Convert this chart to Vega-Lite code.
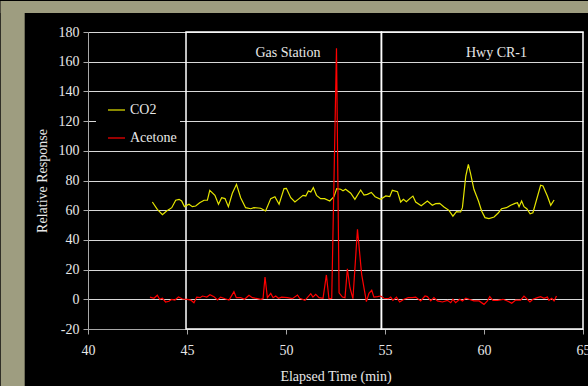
{
  "$schema": "https://vega.github.io/schema/vega-lite/v6.json",
  "width": 495,
  "height": 297,
  "padding": 0,
  "background": "#000000",
  "config": {
    "view": {"stroke": null},
    "font": "Liberation Serif",
    "axis": {
      "domainColor": "#a8a8a8",
      "tickColor": "#a8a8a8",
      "tickSize": 5,
      "labelColor": "#e8e8e8",
      "labelFont": "Liberation Serif",
      "labelFontSize": 14,
      "labelFlush": false,
      "labelOverlap": false,
      "labelExpr": "replace(datum.label, '\u2212', '-')",
      "titleColor": "#e8e8e8",
      "titleFont": "Liberation Serif",
      "titleFontSize": 14,
      "titleFontWeight": "normal",
      "gridColor": "#d8d8d8",
      "gridWidth": 1,
      "gridOpacity": 1
    },
    "axisX": {"grid": false, "labelPadding": 9, "titlePadding": 12},
    "axisY": {"grid": true, "labelPadding": 4, "titlePadding": 9},
    "legend": {
      "orient": "none",
      "legendX": 8,
      "legendY": 65.5,
      "fillColor": "#000000",
      "padding": 3,
      "symbolType": "stroke",
      "symbolSize": 289,
      "symbolStrokeWidth": 1.2,
      "symbolOffset": 8,
      "labelOffset": 4,
      "labelFont": "Liberation Serif",
      "labelFontSize": 14,
      "labelColor": "#e8e8e8",
      "rowPadding": 11
    }
  },
  "datasets": {
    "zones": [
      {"zone": "Gas Station", "start": 44.95, "end": 54.82},
      {"zone": "Hwy CR-1", "start": 54.82, "end": 65}
    ],
    "zoneLabels": [
      {"label": "Gas Station", "t": 50.1, "v": 165.6},
      {"label": "Hwy CR-1", "t": 60.63, "v": 165.6}
    ],
    "co2": [
      {"t": 43.25, "series": "CO2", "v": 65.5},
      {"t": 43.5, "series": "CO2", "v": 60.6},
      {"t": 43.76, "series": "CO2", "v": 57},
      {"t": 43.97, "series": "CO2", "v": 59.5},
      {"t": 44.23, "series": "CO2", "v": 61.7},
      {"t": 44.43, "series": "CO2", "v": 66.7},
      {"t": 44.6, "series": "CO2", "v": 67.3},
      {"t": 44.73, "series": "CO2", "v": 66.2},
      {"t": 44.87, "series": "CO2", "v": 62.4},
      {"t": 45.1, "series": "CO2", "v": 64},
      {"t": 45.27, "series": "CO2", "v": 62.4},
      {"t": 45.44, "series": "CO2", "v": 62.8},
      {"t": 45.64, "series": "CO2", "v": 65},
      {"t": 45.86, "series": "CO2", "v": 66.7},
      {"t": 46.03, "series": "CO2", "v": 66.7},
      {"t": 46.15, "series": "CO2", "v": 73.4},
      {"t": 46.41, "series": "CO2", "v": 70},
      {"t": 46.59, "series": "CO2", "v": 64},
      {"t": 46.75, "series": "CO2", "v": 68.4},
      {"t": 46.92, "series": "CO2", "v": 67.8},
      {"t": 47.09, "series": "CO2", "v": 62.4},
      {"t": 47.29, "series": "CO2", "v": 71.4},
      {"t": 47.5, "series": "CO2", "v": 77.4},
      {"t": 47.71, "series": "CO2", "v": 68.4},
      {"t": 47.96, "series": "CO2", "v": 61.7},
      {"t": 48.22, "series": "CO2", "v": 61},
      {"t": 48.38, "series": "CO2", "v": 61.7},
      {"t": 48.6, "series": "CO2", "v": 61.5},
      {"t": 48.72, "series": "CO2", "v": 61.3},
      {"t": 48.97, "series": "CO2", "v": 59.5},
      {"t": 49.23, "series": "CO2", "v": 67.8},
      {"t": 49.44, "series": "CO2", "v": 69.1},
      {"t": 49.65, "series": "CO2", "v": 64},
      {"t": 49.9, "series": "CO2", "v": 74.5},
      {"t": 50.02, "series": "CO2", "v": 74.7},
      {"t": 50.24, "series": "CO2", "v": 68.4},
      {"t": 50.45, "series": "CO2", "v": 65.5},
      {"t": 50.66, "series": "CO2", "v": 67.8},
      {"t": 50.86, "series": "CO2", "v": 70},
      {"t": 51.0, "series": "CO2", "v": 69.6},
      {"t": 51.13, "series": "CO2", "v": 72.9},
      {"t": 51.25, "series": "CO2", "v": 72.3},
      {"t": 51.38, "series": "CO2", "v": 75.2},
      {"t": 51.54, "series": "CO2", "v": 70},
      {"t": 51.75, "series": "CO2", "v": 67.8},
      {"t": 51.95, "series": "CO2", "v": 67.8},
      {"t": 52.21, "series": "CO2", "v": 66.2},
      {"t": 52.42, "series": "CO2", "v": 69.1},
      {"t": 52.56, "series": "CO2", "v": 74.5},
      {"t": 52.76, "series": "CO2", "v": 74.1},
      {"t": 52.88, "series": "CO2", "v": 73.1},
      {"t": 53.01, "series": "CO2", "v": 74.1},
      {"t": 53.27, "series": "CO2", "v": 71.4},
      {"t": 53.48, "series": "CO2", "v": 67.3},
      {"t": 53.77, "series": "CO2", "v": 73.6},
      {"t": 53.94, "series": "CO2", "v": 70.2},
      {"t": 54.11, "series": "CO2", "v": 70.7},
      {"t": 54.31, "series": "CO2", "v": 72},
      {"t": 54.5, "series": "CO2", "v": 69.1},
      {"t": 54.78, "series": "CO2", "v": 67.3},
      {"t": 55.04, "series": "CO2", "v": 69.6},
      {"t": 55.24, "series": "CO2", "v": 69.1},
      {"t": 55.37, "series": "CO2", "v": 73.4},
      {"t": 55.63, "series": "CO2", "v": 72.5},
      {"t": 55.79, "series": "CO2", "v": 65.5},
      {"t": 55.93, "series": "CO2", "v": 67.3},
      {"t": 56.08, "series": "CO2", "v": 65.7},
      {"t": 56.25, "series": "CO2", "v": 67.8},
      {"t": 56.41, "series": "CO2", "v": 69.5},
      {"t": 56.55, "series": "CO2", "v": 65.5},
      {"t": 56.83, "series": "CO2", "v": 63},
      {"t": 57.14, "series": "CO2", "v": 66.2},
      {"t": 57.39, "series": "CO2", "v": 63.3},
      {"t": 57.56, "series": "CO2", "v": 64.4},
      {"t": 57.76, "series": "CO2", "v": 64.6},
      {"t": 57.98, "series": "CO2", "v": 62.2},
      {"t": 58.23, "series": "CO2", "v": 59.9},
      {"t": 58.43, "series": "CO2", "v": 56},
      {"t": 58.61, "series": "CO2", "v": 59},
      {"t": 58.82, "series": "CO2", "v": 58.8},
      {"t": 58.91, "series": "CO2", "v": 61.7},
      {"t": 59.08, "series": "CO2", "v": 83},
      {"t": 59.21, "series": "CO2", "v": 90.9},
      {"t": 59.33, "series": "CO2", "v": 84.2},
      {"t": 59.49, "series": "CO2", "v": 74.1},
      {"t": 59.72, "series": "CO2", "v": 66.2},
      {"t": 59.88, "series": "CO2", "v": 59.5},
      {"t": 60.05, "series": "CO2", "v": 55},
      {"t": 60.25, "series": "CO2", "v": 54.3},
      {"t": 60.51, "series": "CO2", "v": 55.4},
      {"t": 60.73, "series": "CO2", "v": 58.3},
      {"t": 60.89, "series": "CO2", "v": 61},
      {"t": 61.13, "series": "CO2", "v": 61.7},
      {"t": 61.35, "series": "CO2", "v": 63.3},
      {"t": 61.57, "series": "CO2", "v": 64.6},
      {"t": 61.69, "series": "CO2", "v": 65},
      {"t": 61.77, "series": "CO2", "v": 62.4},
      {"t": 61.9, "series": "CO2", "v": 66.2},
      {"t": 62.02, "series": "CO2", "v": 62.4},
      {"t": 62.16, "series": "CO2", "v": 61},
      {"t": 62.33, "series": "CO2", "v": 57.6},
      {"t": 62.47, "series": "CO2", "v": 58.3},
      {"t": 62.86, "series": "CO2", "v": 76.8},
      {"t": 62.98, "series": "CO2", "v": 76.3},
      {"t": 63.2, "series": "CO2", "v": 69.6},
      {"t": 63.37, "series": "CO2", "v": 63.3},
      {"t": 63.54, "series": "CO2", "v": 66.9}
    ],
    "acetone": [
      {"t": 43.13, "series": "Acetone", "v": 1.5},
      {"t": 43.33, "series": "Acetone", "v": 0.7},
      {"t": 43.5, "series": "Acetone", "v": 2.7},
      {"t": 43.62, "series": "Acetone", "v": 0},
      {"t": 43.76, "series": "Acetone", "v": 0.7},
      {"t": 43.92, "series": "Acetone", "v": -1.8},
      {"t": 44.09, "series": "Acetone", "v": -1.3},
      {"t": 44.23, "series": "Acetone", "v": 0},
      {"t": 44.39, "series": "Acetone", "v": -0.5},
      {"t": 44.57, "series": "Acetone", "v": 1.5},
      {"t": 44.77, "series": "Acetone", "v": 0.2},
      {"t": 45.02, "series": "Acetone", "v": 0},
      {"t": 45.19, "series": "Acetone", "v": -0.5},
      {"t": 45.35, "series": "Acetone", "v": -2.3},
      {"t": 45.49, "series": "Acetone", "v": 1.5},
      {"t": 45.66, "series": "Acetone", "v": 1.1},
      {"t": 45.78, "series": "Acetone", "v": 2.2},
      {"t": 46.0, "series": "Acetone", "v": 1.5},
      {"t": 46.16, "series": "Acetone", "v": 3.1},
      {"t": 46.36, "series": "Acetone", "v": 1.8},
      {"t": 46.54, "series": "Acetone", "v": -0.5},
      {"t": 46.7, "series": "Acetone", "v": 1.5},
      {"t": 46.92, "series": "Acetone", "v": 0.4},
      {"t": 47.12, "series": "Acetone", "v": -0.5},
      {"t": 47.21, "series": "Acetone", "v": 1.5},
      {"t": 47.37, "series": "Acetone", "v": 5.1},
      {"t": 47.49, "series": "Acetone", "v": 1.1},
      {"t": 47.71, "series": "Acetone", "v": 1.1},
      {"t": 47.91, "series": "Acetone", "v": 0},
      {"t": 48.13, "series": "Acetone", "v": 2.7},
      {"t": 48.3, "series": "Acetone", "v": 1.1},
      {"t": 48.56, "series": "Acetone", "v": 0.4},
      {"t": 48.72, "series": "Acetone", "v": 0},
      {"t": 48.84, "series": "Acetone", "v": 0.4},
      {"t": 48.94, "series": "Acetone", "v": 15},
      {"t": 49.06, "series": "Acetone", "v": 1.1},
      {"t": 49.23, "series": "Acetone", "v": 4},
      {"t": 49.35, "series": "Acetone", "v": 1.1},
      {"t": 49.48, "series": "Acetone", "v": 2.2},
      {"t": 49.62, "series": "Acetone", "v": 0.7},
      {"t": 49.78, "series": "Acetone", "v": 1.5},
      {"t": 50.07, "series": "Acetone", "v": 1.1},
      {"t": 50.32, "series": "Acetone", "v": 0.4},
      {"t": 50.58, "series": "Acetone", "v": 2.9},
      {"t": 50.69, "series": "Acetone", "v": 0.7},
      {"t": 50.96, "series": "Acetone", "v": -0.7},
      {"t": 51.25, "series": "Acetone", "v": 3.8},
      {"t": 51.36, "series": "Acetone", "v": 1.5},
      {"t": 51.5, "series": "Acetone", "v": 3.4},
      {"t": 51.67, "series": "Acetone", "v": 1.1},
      {"t": 51.87, "series": "Acetone", "v": 0.7},
      {"t": 52.04, "series": "Acetone", "v": 16.4},
      {"t": 52.17, "series": "Acetone", "v": 0.4},
      {"t": 52.31, "series": "Acetone", "v": 0.7},
      {"t": 52.55, "series": "Acetone", "v": 169},
      {"t": 52.68, "series": "Acetone", "v": 4.4},
      {"t": 52.85, "series": "Acetone", "v": 1.5},
      {"t": 52.98, "series": "Acetone", "v": 1.1},
      {"t": 53.1, "series": "Acetone", "v": 20.6},
      {"t": 53.23, "series": "Acetone", "v": 7.8},
      {"t": 53.38, "series": "Acetone", "v": 0.4},
      {"t": 53.61, "series": "Acetone", "v": 47.1},
      {"t": 53.82, "series": "Acetone", "v": 16.8},
      {"t": 54.06, "series": "Acetone", "v": -1.6},
      {"t": 54.19, "series": "Acetone", "v": 4},
      {"t": 54.33, "series": "Acetone", "v": 6.1},
      {"t": 54.44, "series": "Acetone", "v": 1.5},
      {"t": 54.62, "series": "Acetone", "v": 1.8},
      {"t": 54.78, "series": "Acetone", "v": 2.2},
      {"t": 54.95, "series": "Acetone", "v": 0.7},
      {"t": 55.17, "series": "Acetone", "v": 0.4},
      {"t": 55.29, "series": "Acetone", "v": 1.5},
      {"t": 55.4, "series": "Acetone", "v": -0.7},
      {"t": 55.58, "series": "Acetone", "v": 1.5},
      {"t": 55.74, "series": "Acetone", "v": -1.8},
      {"t": 55.96, "series": "Acetone", "v": 0},
      {"t": 56.18, "series": "Acetone", "v": 1.1},
      {"t": 56.38, "series": "Acetone", "v": 1.1},
      {"t": 56.55, "series": "Acetone", "v": 1.5},
      {"t": 56.8, "series": "Acetone", "v": -1.1},
      {"t": 57.02, "series": "Acetone", "v": 2.2},
      {"t": 57.14, "series": "Acetone", "v": 1.8},
      {"t": 57.31, "series": "Acetone", "v": -1.1},
      {"t": 57.47, "series": "Acetone", "v": 1.1},
      {"t": 57.65, "series": "Acetone", "v": -1.1},
      {"t": 57.9, "series": "Acetone", "v": -1.8},
      {"t": 58.15, "series": "Acetone", "v": -0.7},
      {"t": 58.32, "series": "Acetone", "v": -2.3},
      {"t": 58.43, "series": "Acetone", "v": 0},
      {"t": 58.57, "series": "Acetone", "v": -2.3},
      {"t": 58.77, "series": "Acetone", "v": 0},
      {"t": 58.91, "series": "Acetone", "v": -1.1},
      {"t": 59.08, "series": "Acetone", "v": 0.7},
      {"t": 59.24, "series": "Acetone", "v": 0},
      {"t": 59.49, "series": "Acetone", "v": -1.1},
      {"t": 59.75, "series": "Acetone", "v": -1.1},
      {"t": 60.0, "series": "Acetone", "v": -3.4},
      {"t": 60.17, "series": "Acetone", "v": -1.1},
      {"t": 60.29, "series": "Acetone", "v": 1.8},
      {"t": 60.45, "series": "Acetone", "v": -0.7},
      {"t": 60.68, "series": "Acetone", "v": -0.7},
      {"t": 60.96, "series": "Acetone", "v": 0},
      {"t": 61.18, "series": "Acetone", "v": -1.1},
      {"t": 61.4, "series": "Acetone", "v": -2.7},
      {"t": 61.6, "series": "Acetone", "v": -0.5},
      {"t": 61.85, "series": "Acetone", "v": -0.5},
      {"t": 62.02, "series": "Acetone", "v": 2.2},
      {"t": 62.19, "series": "Acetone", "v": 0},
      {"t": 62.32, "series": "Acetone", "v": -1.8},
      {"t": 62.47, "series": "Acetone", "v": 0},
      {"t": 62.7, "series": "Acetone", "v": 1.1},
      {"t": 62.86, "series": "Acetone", "v": 1.8},
      {"t": 63.03, "series": "Acetone", "v": 0.7},
      {"t": 63.2, "series": "Acetone", "v": 1.5},
      {"t": 63.28, "series": "Acetone", "v": -0.7},
      {"t": 63.42, "series": "Acetone", "v": 0.7},
      {"t": 63.54, "series": "Acetone", "v": -1.1},
      {"t": 63.66, "series": "Acetone", "v": 2.2}
    ]
  },
  "layer": [
    {
      "data": {"values": [{}]},
      "mark": {"type": "rect", "color": "#9e9d80", "strokeWidth": 0},
      "encoding": {
        "x": {"datum": 35.591, "type": "quantitative", "scale": {"domain": [40, 65], "nice": false, "zero": false},
              "axis": {"title": "Elapsed Time (min)", "values": [40, 45, 50, 55, 60, 65]}},
        "x2": {"datum": 36.803},
        "y": {"datum": 200.9, "type": "quantitative", "scale": {"domain": [-20, 180], "nice": false, "zero": false},
              "axis": {"title": "Relative Response", "values": [-20, 0, 20, 40, 60, 80, 100, 120, 140, 160, 180]}},
        "y2": {"datum": -60}
      }
    },
    {
      "data": {"values": [{}]},
      "mark": {"type": "rect", "color": "#9e9d80", "strokeWidth": 0},
      "encoding": {
        "x": {"datum": 35.591, "type": "quantitative", "scale": {"domain": [40, 65], "nice": false, "zero": false},
              "axis": {"title": "Elapsed Time (min)", "values": [40, 45, 50, 55, 60, 65]}},
        "x2": {"datum": 65.3},
        "y": {"datum": 200.9, "type": "quantitative", "scale": {"domain": [-20, 180], "nice": false, "zero": false},
              "axis": {"title": "Relative Response", "values": [-20, 0, 20, 40, 60, 80, 100, 120, 140, 160, 180]}},
        "y2": {"datum": 192.8}
      }
    },
    {
      "data": {"name": "zones"},
      "mark": {"type": "rect", "filled": false, "stroke": "#ffffff", "strokeWidth": 1.5},
      "encoding": {
        "x": {"field": "start", "type": "quantitative", "scale": {"domain": [40, 65], "nice": false, "zero": false},
              "axis": {"title": "Elapsed Time (min)", "values": [40, 45, 50, 55, 60, 65]}},
        "x2": {"field": "end"},
        "y": {"datum": 180, "type": "quantitative", "scale": {"domain": [-20, 180], "nice": false, "zero": false},
              "axis": {"title": "Relative Response", "values": [-20, 0, 20, 40, 60, 80, 100, 120, 140, 160, 180]}},
        "y2": {"datum": -20}
      }
    },
    {
      "data": {"name": "co2"},
      "mark": {"type": "line", "strokeWidth": 1.2},
      "encoding": {
        "x": {"field": "t", "type": "quantitative", "scale": {"domain": [40, 65], "nice": false, "zero": false},
              "axis": {"title": "Elapsed Time (min)", "values": [40, 45, 50, 55, 60, 65]}},
        "y": {"field": "v", "type": "quantitative", "scale": {"domain": [-20, 180], "nice": false, "zero": false},
              "axis": {"title": "Relative Response", "values": [-20, 0, 20, 40, 60, 80, 100, 120, 140, 160, 180]}},
        "color": {"field": "series", "type": "nominal", "scale": {"domain": ["CO2", "Acetone"], "range": ["#e6e600", "#ff0000"]}, "legend": {"title": null}}
      }
    },
    {
      "data": {"name": "acetone"},
      "mark": {"type": "line", "strokeWidth": 1.2},
      "encoding": {
        "x": {"field": "t", "type": "quantitative", "scale": {"domain": [40, 65], "nice": false, "zero": false},
              "axis": {"title": "Elapsed Time (min)", "values": [40, 45, 50, 55, 60, 65]}},
        "y": {"field": "v", "type": "quantitative", "scale": {"domain": [-20, 180], "nice": false, "zero": false},
              "axis": {"title": "Relative Response", "values": [-20, 0, 20, 40, 60, 80, 100, 120, 140, 160, 180]}},
        "color": {"field": "series", "type": "nominal", "scale": {"domain": ["CO2", "Acetone"], "range": ["#e6e600", "#ff0000"]}, "legend": {"title": null}}
      }
    },
    {
      "data": {"name": "zoneLabels"},
      "mark": {"type": "text", "font": "Liberation Serif", "fontSize": 14, "color": "#e8e8e8", "baseline": "middle", "align": "center"},
      "encoding": {
        "x": {"field": "t", "type": "quantitative", "scale": {"domain": [40, 65], "nice": false, "zero": false},
              "axis": {"title": "Elapsed Time (min)", "values": [40, 45, 50, 55, 60, 65]}},
        "y": {"field": "v", "type": "quantitative", "scale": {"domain": [-20, 180], "nice": false, "zero": false},
              "axis": {"title": "Relative Response", "values": [-20, 0, 20, 40, 60, 80, 100, 120, 140, 160, 180]}},
        "text": {"field": "label"}
      }
    }
  ]
}
